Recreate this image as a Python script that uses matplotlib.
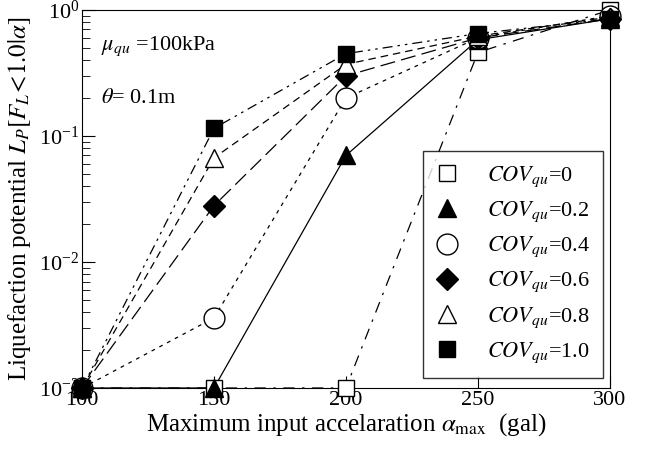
import matplotlib
matplotlib.use("Agg")
import matplotlib.pyplot as plt

plt.rcParams['font.family'] = ['Liberation Serif', 'DejaVu Serif']
plt.rcParams['mathtext.fontset'] = 'stix'

accel = [100, 150, 200, 250, 300]
cov_labels = ['0', '0.2', '0.4', '0.6', '0.8', '1.0']
lp_cov00 = [1e-3, 1e-3, 1e-3, 0.46, 1.0]
lp_cov02 = [1e-3, 1e-3, 0.07, 0.58, 0.85]
lp_cov04 = [1e-3, 0.0036, 0.20, 0.60, 0.90]
lp_cov06 = [1e-3, 0.028, 0.30, 0.60, 0.85]
lp_cov08 = [1e-3, 0.067, 0.37, 0.62, 0.88]
lp_cov10 = [1e-3, 0.115, 0.45, 0.65, 0.85]

series = [lp_cov00, lp_cov02, lp_cov04, lp_cov06, lp_cov08, lp_cov10]
markers = ['s', '^', 'o', 'D', '^', 's']
faces = ['white', 'black', 'white', 'black', 'white', 'black']
sizes = [12, 13, 15, 11, 13, 12]
styles = [(0, (9, 6, 2, 6)), '-', (0, (3, 4)), (0, (12, 5)), (0, (6, 4)), (0, (8, 4, 2, 4, 2, 4))]

fig = plt.figure(figsize=(6.46, 4.53), dpi=100)
ax = fig.add_axes([0.127, 0.1435, 0.817, 0.8345])

for vals, m, fc, ms, ls, lab in zip(series, markers, faces, sizes, styles, cov_labels):
    ax.plot(accel, vals, color='black', lw=0.9, linestyle=ls, zorder=2, clip_on=False)
    ax.plot(accel, vals, linestyle='none', marker=m, ms=ms, mfc=fc, mec='black',
            mew=1.0, zorder=3, clip_on=False, label=r'$COV_{qu}$=' + lab)

ax.set_yscale('log')
ax.set_xlim(100, 300)
ax.set_ylim(1e-3, 1)
ax.set_xticks([100, 150, 200, 250, 300])
ax.tick_params(which='both', direction='in', labelsize=16, top=False, right=False, pad=2)
ax.tick_params(which='major', length=9)
ax.tick_params(which='minor', length=6)
ax.tick_params(axis='x', which='minor', bottom=False)

ax.set_xlabel(r'Maximum input accelaration $\alpha_{\rm max}$  (gal)', fontsize=18, labelpad=1)
ax.set_ylabel(r'Liquefaction potential $L_P[F_L\!<\!1.0|\alpha]$', fontsize=18, labelpad=4)

ax.text(0.035, 0.935, r'$\mu_{qu}$ =100kPa', transform=ax.transAxes, fontsize=16, va='top')
ax.text(0.035, 0.79, r'$\theta$= 0.1m', transform=ax.transAxes, fontsize=16, va='top')

leg = ax.legend(loc='lower right', fontsize=16, frameon=True, fancybox=False,
                edgecolor='black', handlelength=1.0, handletextpad=1.3,
                labelspacing=0.48, borderpad=0.6, borderaxespad=0,
                bbox_to_anchor=(0.988, 0.026))
leg.get_frame().set_linewidth(1.0)

fig.savefig('out.png', dpi=100)
